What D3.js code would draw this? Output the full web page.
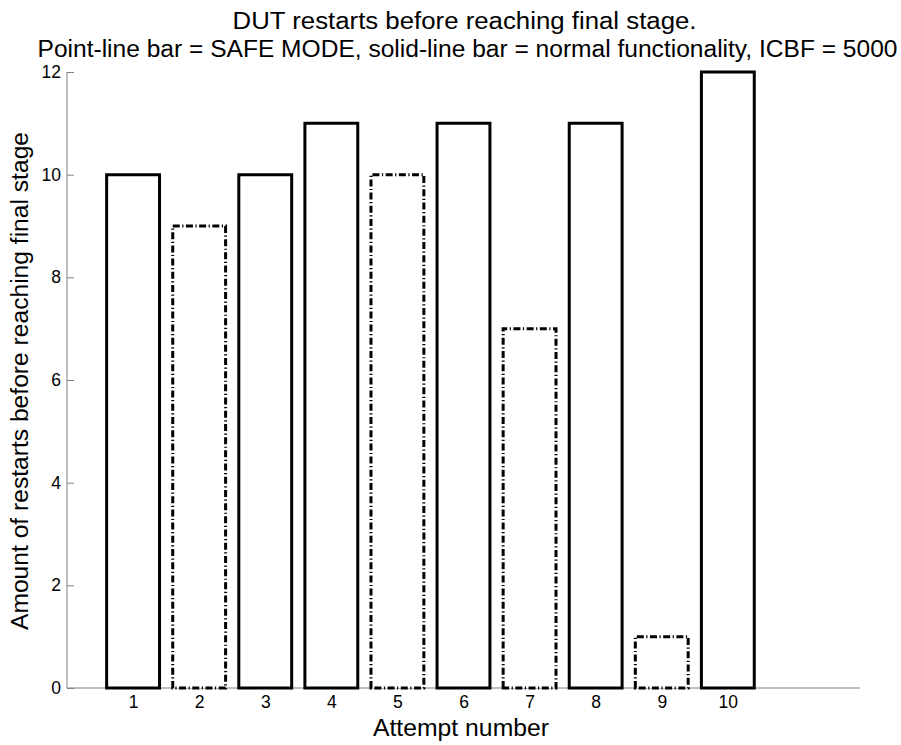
<!DOCTYPE html>
<html><head><meta charset="utf-8">
<script src="https://cdn.jsdelivr.net/npm/d3@7"></script>
<style>body{margin:0;background:#fff}svg{display:block}text{font-family:"Liberation Sans",Arial,sans-serif}</style>
</head><body><svg id="c" width="901" height="745"></svg>
<script>
const attempts = [1,2,3,4,5,6,7,8,9,10];
const restarts = [10,9,10,11,10,11,7,11,1,12];
const safeMode = [false,true,false,false,true,false,true,false,true,false];
const yTicks = [0,2,4,6,8,10,12];
const titleLines = ["DUT restarts before reaching final stage.",
  "Point-line bar = SAFE MODE, solid-line bar = normal functionality, ICBF = 5000"];
const xLabel = "Attempt number";
const yLabel = "Amount of restarts before reaching final stage";

const svg = d3.select("#c");
const L = 67, R = 860, T = 72, B = 688;
const x = d3.scaleLinear().domain([0,12]).range([L,R]);
const y = d3.scaleLinear().domain([0,12]).range([B,T]);
const bw = 0.8;

// axes
const ya = d3.axisLeft(y).tickValues(yTicks).tickSize(-7).tickPadding(6).tickFormat(d3.format("d"));
const gy = svg.append("g").attr("transform",`translate(${L},0)`).call(ya);
gy.select(".domain").attr("stroke","#808080").attr("d",`M0,${B}V${T}`);
gy.selectAll(".tick line").attr("stroke","#808080");
gy.selectAll("text").attr("font-size",17.5).attr("fill","#000").attr("font-family",null);

const xa = d3.axisBottom(x).tickValues(attempts).tickSize(-7).tickPadding(8).tickFormat(d3.format("d"));
const gx = svg.append("g").attr("transform",`translate(0,${B})`).call(xa);
gx.select(".domain").attr("stroke","#808080").attr("d",`M${L},0H${R}`);
gx.selectAll(".tick line").attr("stroke","#808080");
gx.selectAll("text").attr("font-size",17.5).attr("fill","#000").attr("font-family",null);

// bars
svg.append("g").selectAll("path").data(attempts).join("path")
  .attr("d", (d,i) => {
    const x0 = x(d-bw/2), x1 = x(d+bw/2), y0 = y(0), y1 = y(restarts[i]);
    return `M${x0},${y0}L${x0},${y1}L${x1},${y1}L${x1},${y0}Z`;
  })
  .attr("fill","#fff").attr("stroke","#000").attr("stroke-width",3)
  .attr("stroke-dasharray",(d,i)=> safeMode[i] ? "7,2.5,1.2,2.5" : null);

// title
svg.append("text").attr("x",(L+R)/2+1).attr("y",29).attr("text-anchor","middle")
  .attr("font-size",23).attr("textLength",464).attr("lengthAdjust","spacingAndGlyphs").text(titleLines[0]);
svg.append("text").attr("x",(L+R)/2+4).attr("y",57).attr("text-anchor","middle")
  .attr("font-size",23).attr("textLength",860).attr("lengthAdjust","spacingAndGlyphs").text(titleLines[1]);
// axis labels
svg.append("text").attr("x",461).attr("y",736).attr("text-anchor","middle")
  .attr("font-size",23).attr("textLength",176).attr("lengthAdjust","spacingAndGlyphs").text(xLabel);
svg.append("text").attr("transform",`translate(28,381) rotate(-90)`).attr("text-anchor","middle")
  .attr("font-size",23).attr("textLength",498).attr("lengthAdjust","spacingAndGlyphs").text(yLabel);
</script></body></html>
